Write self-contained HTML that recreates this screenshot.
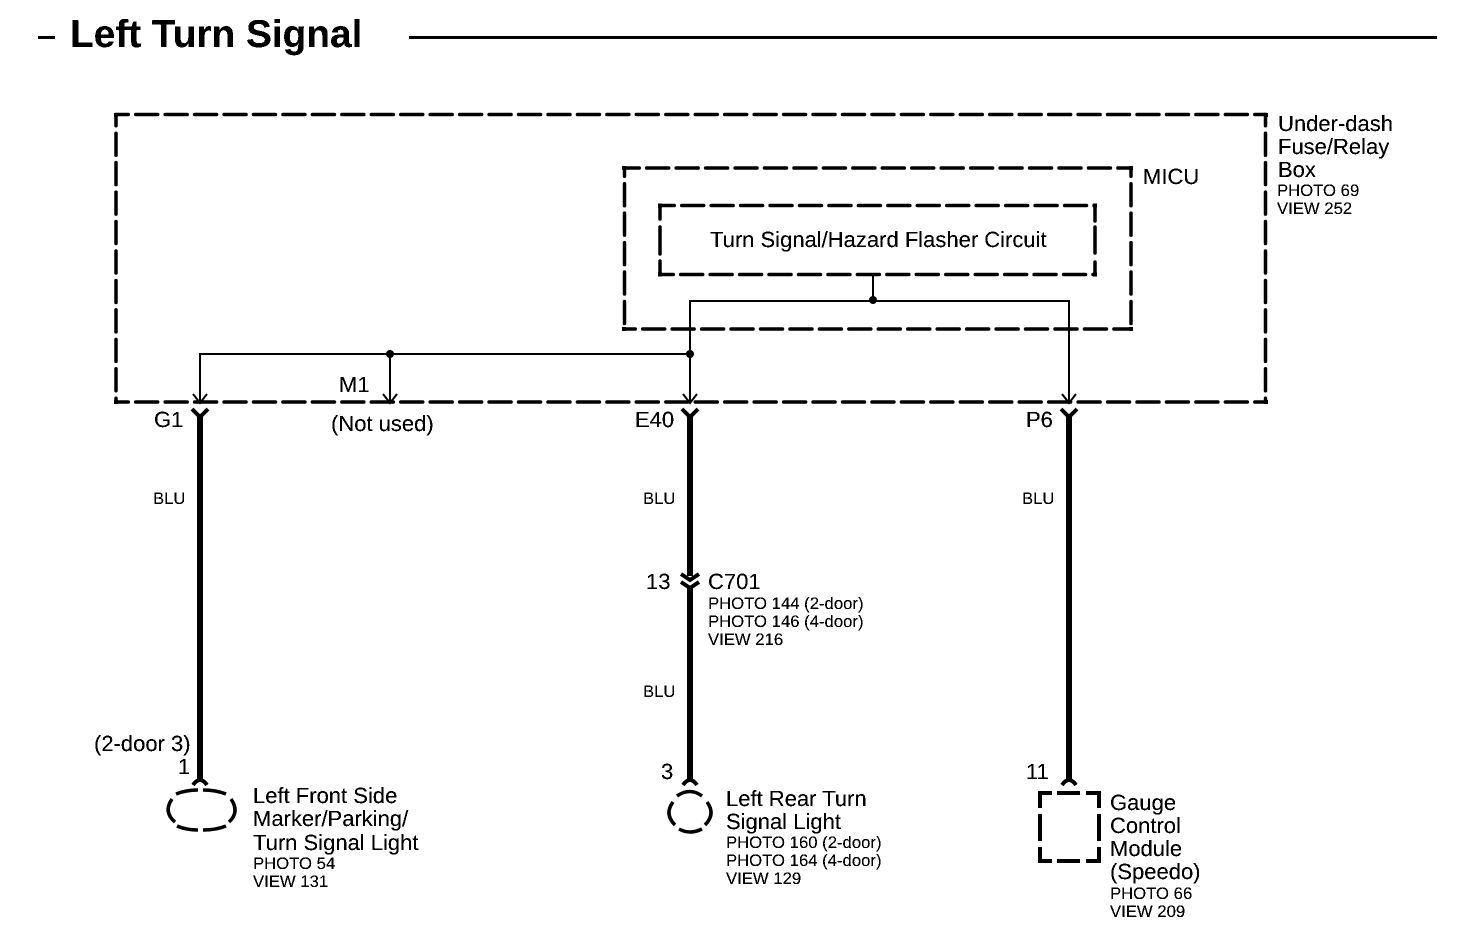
<!DOCTYPE html>
<html lang="en">
<head>
<meta charset="utf-8">
<title>Left Turn Signal</title>
<style>
html,body{margin:0;padding:0;background:#fff;width:1472px;height:950px;overflow:hidden}
svg{display:block}
text{font-family:"Liberation Sans",Arial,sans-serif;fill:#000;text-rendering:geometricPrecision}
.n{font-size:22px}
.s{font-size:16.7px}
.t{font-size:38.8px;font-weight:bold}
.thin{fill:none;stroke:#000;stroke-width:2}
.box{fill:none;stroke:#000;stroke-width:3.5;stroke-dasharray:22 7.45;stroke-linecap:round}
.solid{fill:none;stroke:#000;stroke-width:3.5;stroke-linecap:round}
.wire{fill:none;stroke:#000;stroke-width:6}
.fork{fill:none;stroke:#000;stroke-width:4}
.comp{fill:none;stroke:#000;stroke-width:3.5}
</style>
</head>
<body>
<svg width="1472" height="950" viewBox="0 0 1472 950" xmlns="http://www.w3.org/2000/svg">
<defs>
<filter id="bw" filterUnits="userSpaceOnUse" x="0" y="0" width="1472" height="950">
<feComponentTransfer><feFuncA type="discrete" tableValues="0 1 1"/></feComponentTransfer>
</filter>
</defs>
<rect width="1472" height="950" fill="#fff"/>

<!-- header -->
<rect x="38" y="36" width="17" height="3"/>
<rect x="409" y="36" width="1028" height="3"/>

<!-- outer box -->
<path class="box" stroke-dashoffset="9.75" d="M116 114.5H1266"/>
<path class="box" stroke-dashoffset="9.75" d="M116 402H1266"/>
<path class="box" stroke-dashoffset="10.75" d="M116 114.5V402"/>
<path class="box" stroke-dashoffset="10.75" d="M1265.5 114.5V402"/>
<path d="M114 113h4v4h-4zM1264 113h4v4h-4zM114 400h4v4h-4zM1264 400h4v4h-4z"/>

<!-- MICU box -->
<path class="box" stroke-dashoffset="6.75" d="M624 168H1131"/>
<path class="box" stroke-dashoffset="10.75" d="M624 329H1131"/>
<path class="box" stroke-dashoffset="13.75" d="M624.5 168V329"/>
<path class="box" stroke-dashoffset="13.75" d="M1131 168V329"/>
<path d="M622 166h4v4h-4zM1129 166h4v4h-4zM622 327h4v4h-4zM1129 327h4v4h-4z"/>

<!-- flasher box -->
<path class="box" stroke-dashoffset="7.75" d="M660 205.500H1095"/>
<path class="box" stroke-dashoffset="8.75" d="M660 274.500H1095"/>
<path class="solid" d="M660 206V219M660 227V254M660 261V274"/>
<path class="solid" d="M1095 206V221M1095 227V253M1095 262V274"/>
<path d="M658 203.500h4v4h-4zM1093 203.500h4v4h-4zM658 272.500h4v4h-4zM1093 272.500h4v4h-4z"/>

<!-- thin wires -->
<path class="thin" d="M200 403V354H690"/>
<path class="thin" d="M390 354V403"/>
<path class="thin" d="M690 403V301H1069V403"/>
<path class="thin" d="M873 274V301"/>
<circle cx="390" cy="354" r="4"/>
<circle cx="690" cy="354" r="4"/>
<circle cx="873" cy="300" r="4"/>

<!-- arrowheads -->
<path class="thin" d="M193 394L200 403L207 394"/>
<path class="thin" d="M383 394L390 403L397 394"/>
<path class="thin" d="M683 394L690 403L697 394"/>
<path class="thin" d="M1062 394L1069 403L1076 394"/>

<!-- thick wires -->
<path class="wire" d="M200 414V780"/>
<path class="wire" d="M690 414V576"/>
<path class="wire" d="M690 586V780"/>
<path class="wire" d="M1069 414V780"/>

<!-- top forks -->
<path class="fork" d="M192 409L200 417L208 409"/>
<path class="fork" d="M682 409L690 417L698 409"/>
<path class="fork" d="M1061 409L1069 417L1077 409"/>

<!-- C701 connector -->
<path class="fork" d="M681 574L690 580L699 574"/>
<path class="fork" d="M681 582L690 588L699 582"/>

<!-- bottom forks -->
<path class="fork" d="M193 785Q200 775 207 785"/>
<path class="fork" d="M683 785Q690 775 697 785"/>
<path class="fork" d="M1062 785Q1069 775 1076 785"/>

<!-- left bulb -->
<path class="comp" d="M176 794Q186 790 198 790"/>
<path class="comp" d="M203 790Q216 790 226 794"/>
<path class="comp" d="M172 799Q163 812 175 822"/>
<path class="comp" d="M231 799Q240 812 229 822"/>
<path class="comp" d="M177 826Q186 830 198 830"/>
<path class="comp" d="M203 830Q216 830 226 826"/>

<!-- rear bulb -->
<path class="comp" d="M677 796Q690 787 702 796"/>
<path class="comp" d="M673 802Q664 814 675 825"/>
<path class="comp" d="M707 802Q716 814 705 825"/>
<path class="comp" d="M679 829Q690 835 702 829"/>

<!-- module box -->
<path class="comp" style="stroke-width:4" d="M1052 793H1040V808"/>
<path class="comp" style="stroke-width:4" d="M1057 793H1080"/>
<path class="comp" style="stroke-width:4" d="M1086 793H1099V808"/>
<path class="comp" style="stroke-width:4" d="M1040 814V841"/>
<path class="comp" style="stroke-width:4" d="M1099 814V841"/>
<path class="comp" style="stroke-width:4" d="M1040 847V861H1052"/>
<path class="comp" style="stroke-width:4" d="M1057 861H1080"/>
<path class="comp" style="stroke-width:4" d="M1086 861H1099V847"/>

<g filter="url(#bw)">
<text class="t" x="70" y="47">Left Turn Signal</text>

<text class="n" x="1278" y="131">Under-dash</text>
<text class="n" x="1278" y="154">Fuse/Relay</text>
<text class="n" x="1278" y="177">Box</text>
<text class="s" x="1277" y="196">PHOTO 69</text>
<text class="s" x="1277" y="214">VIEW 252</text>

<text class="n" x="1143" y="184">MICU</text>
<text class="n" x="710" y="247">Turn Signal/Hazard Flasher Circuit</text>

<text class="n" x="154" y="427">G1</text>
<text class="n" x="339" y="392">M1</text>
<text class="n" x="331" y="431">(Not used)</text>
<text class="n" x="635" y="427">E40</text>
<text class="n" x="1026" y="427">P6</text>

<text class="s" x="153" y="504">BLU</text>
<text class="s" x="643" y="504">BLU</text>
<text class="s" x="1022" y="504">BLU</text>
<text class="s" x="643" y="697">BLU</text>

<text class="n" x="646" y="589">13</text>
<text class="n" x="708" y="589">C701</text>
<text class="s" x="708" y="609">PHOTO 144 (2-door)</text>
<text class="s" x="708" y="627">PHOTO 146 (4-door)</text>
<text class="s" x="708" y="645">VIEW 216</text>

<text class="n" x="94" y="751">(2-door 3)</text>
<text class="n" x="178" y="774">1</text>
<text class="n" x="253" y="803">Left Front Side</text>
<text class="n" x="253" y="826">Marker/Parking/</text>
<text class="n" x="253" y="850">Turn Signal Light</text>
<text class="s" x="253" y="869">PHOTO 54</text>
<text class="s" x="253" y="887">VIEW 131</text>

<text class="n" x="661" y="779">3</text>
<text class="n" x="726" y="806">Left Rear Turn</text>
<text class="n" x="726" y="829">Signal Light</text>
<text class="s" x="726" y="848">PHOTO 160 (2-door)</text>
<text class="s" x="726" y="866">PHOTO 164 (4-door)</text>
<text class="s" x="726" y="884">VIEW 129</text>

<text class="n" x="1026" y="779">11</text>
<text class="n" x="1110" y="810">Gauge</text>
<text class="n" x="1110" y="833">Control</text>
<text class="n" x="1110" y="856">Module</text>
<text class="n" x="1110" y="879">(Speedo)</text>
<text class="s" x="1110" y="899">PHOTO 66</text>
<text class="s" x="1110" y="917">VIEW 209</text>
</g>
</svg>
</body>
</html>
